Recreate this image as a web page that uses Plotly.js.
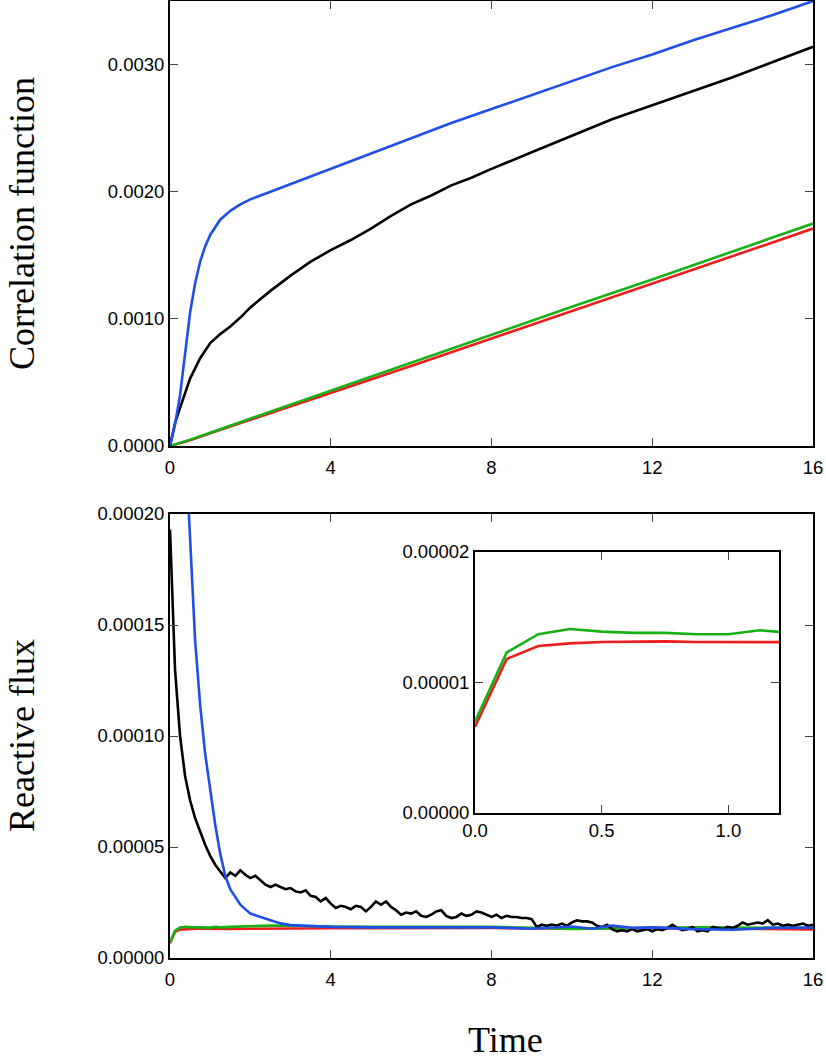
<!DOCTYPE html>
<html>
<head>
<meta charset="utf-8">
<script src="https://cdn.plot.ly/plotly-3.0.1.min.js"></script>
<style>html,body{margin:0;padding:0;background:#fff;}#chart{width:826px;height:1062px;}</style>
</head>
<body>
<div id="chart"></div>
<script>
// ---------- Top panel: correlation function (values in units of 1e-3) ----------
const tTopBlue = [0,0.125,0.25,0.375,0.5,0.625,0.75,0.875,1,1.25,1.5,1.75,2,2.5,3,3.5,4,5,6,7,8,9,10,11,12,13,14,15,16];
const corrBlue_e3 = [0,0.17,0.40,0.75,1.05,1.28,1.45,1.57,1.66,1.78,1.85,1.90,1.94,2.00,2.06,2.12,2.18,2.30,2.42,2.54,2.65,2.76,2.87,2.98,3.08,3.19,3.29,3.39,3.50];

const tTopBlack = [0,0.125,0.25,0.5,0.75,1,1.25,1.5,1.75,2,2.5,3,3.5,4,4.5,5,5.5,6,6.5,7,7.5,8,9,10,11,12,13,14,15,16];
const corrBlack_e3 = [0,0.18,0.30,0.53,0.69,0.81,0.88,0.94,1.01,1.09,1.22,1.34,1.45,1.54,1.62,1.71,1.81,1.90,1.97,2.05,2.11,2.18,2.31,2.44,2.57,2.68,2.79,2.90,3.02,3.14];

const tTopLin = [0,0.25,0.5,1,2,4,6,8,10,12,14,16];
const corrGreen_e3 = [0,0.022,0.050,0.105,0.215,0.44,0.66,0.88,1.095,1.31,1.53,1.75];
const corrRed_e3   = [0,0.020,0.046,0.100,0.205,0.415,0.63,0.845,1.06,1.28,1.495,1.71];

// ---------- Bottom panel: reactive flux (values in units of 1e-5) ----------
const tBlack = [0,0.125,0.25,0.375,0.5,0.625,0.75,0.875,1,1.125,1.25,1.375,1.5,1.625,1.75,1.875,2,2.125,2.25,2.375,2.5,2.625,2.75,2.875,3,3.125,3.25,3.375,3.5,3.625,3.75,3.875,4,4.125,4.25,4.375,4.5,4.625,4.75,4.875,5,5.125,5.25,5.375,5.5,5.625,5.75,5.875,6,6.125,6.25,6.375,6.5,6.625,6.75,6.875,7,7.125,7.25,7.375,7.5,7.625,7.75,7.875,8,8.125,8.25,8.375,8.5,8.625,8.75,8.875,9,9.125,9.25,9.375,9.5,9.625,9.75,9.875,10,10.125,10.25,10.375,10.5,10.625,10.75,10.875,11,11.125,11.25,11.375,11.5,11.625,11.75,11.875,12,12.125,12.25,12.375,12.5,12.625,12.75,12.875,13,13.125,13.25,13.375,13.5,13.625,13.75,13.875,14,14.125,14.25,14.375,14.5,14.625,14.75,14.875,15,15.125,15.25,15.375,15.5,15.625,15.75,15.875,16];
const fluxBlack_e5 = [19.3,13.0,10.0,8.2,7.1,6.3,5.7,5.1,4.6,4.2,3.9,3.6,3.85,3.7,3.95,3.75,3.6,3.7,3.5,3.3,3.2,3.3,3.2,3.1,3.15,3.0,2.95,3.05,2.8,2.75,2.55,2.7,2.45,2.25,2.35,2.3,2.2,2.35,2.3,2.1,2.3,2.55,2.4,2.55,2.3,2.15,1.95,2.05,2.0,2.1,1.9,1.85,1.95,2.1,2.15,1.9,1.8,1.85,2.0,1.9,1.95,2.1,2.05,1.95,1.85,1.95,1.8,1.9,1.85,1.85,1.8,1.8,1.75,1.4,1.5,1.45,1.5,1.45,1.55,1.45,1.6,1.7,1.65,1.65,1.6,1.45,1.4,1.5,1.3,1.2,1.25,1.2,1.3,1.2,1.25,1.3,1.2,1.3,1.25,1.35,1.5,1.35,1.25,1.3,1.4,1.2,1.25,1.2,1.4,1.35,1.3,1.4,1.35,1.45,1.6,1.5,1.55,1.6,1.55,1.7,1.5,1.55,1.45,1.5,1.45,1.5,1.55,1.45,1.5];

const tBlue = [0,0.125,0.25,0.375,0.5,0.625,0.75,0.875,1,1.125,1.25,1.375,1.5,1.75,2,2.25,2.5,2.75,3,3.5,4,5,6,7,8,9,10,10.5,11,11.5,12,13,14,15,16];
const fluxBlue_e5 = [46,37,29,23.5,18.6,14.3,11.4,9.2,7.6,6.0,4.7,3.7,3.1,2.4,2.0,1.85,1.68,1.56,1.48,1.43,1.40,1.38,1.39,1.38,1.38,1.32,1.42,1.32,1.46,1.36,1.38,1.30,1.27,1.36,1.36];

const tGR = [0,0.125,0.25,0.375,0.5,0.625,0.75,0.875,1,1.125,1.25,1.5,2,2.5,3,3.5,4,5,6,7,8,9,10,11,12,13,14,15,16];
const fluxGreen_e5 = [0.70,1.23,1.37,1.41,1.39,1.38,1.38,1.37,1.37,1.40,1.38,1.40,1.44,1.46,1.45,1.42,1.42,1.40,1.41,1.40,1.40,1.36,1.31,1.33,1.36,1.38,1.37,1.36,1.36];
const fluxRed_e5   = [0.66,1.18,1.28,1.30,1.31,1.315,1.315,1.31,1.31,1.31,1.31,1.31,1.32,1.33,1.33,1.34,1.34,1.34,1.35,1.36,1.35,1.33,1.34,1.34,1.34,1.33,1.32,1.31,1.29];

// tick labels
const topYTicks = [0, 0.001, 0.002, 0.003];
const topYLabels = ['0.0000','0.0010','0.0020','0.0030'];
const botYTicks = [0, 0.00005, 0.0001, 0.00015, 0.0002];
const botYLabels = ['0.00000','0.00005','0.00010','0.00015','0.00020'];
const xTicks = [0,4,8,12,16];
const xLabels = ['0','4','8','12','16'];
const insetXTicks = [0,0.5,1.0];
const insetXLabels = ['0.0','0.5','1.0'];
const insetYTicks = [0,0.00001,0.00002];
const insetYLabels = ['0.00000','0.00001','0.00002'];

const C = {blue:'#1f4fe6', black:'#000000', green:'#17b017', red:'#ee1c1c'};
const e3 = a => a.map(v => v*1e-3);
const e5 = a => a.map(v => v*1e-5);
const LW = 2.6;

const traces = [
  {x:tTopLin, y:e3(corrRed_e3), xaxis:'x', yaxis:'y', mode:'lines', line:{color:C.red,width:LW}},
  {x:tTopLin, y:e3(corrGreen_e3), xaxis:'x', yaxis:'y', mode:'lines', line:{color:C.green,width:LW}},
  {x:tTopBlack, y:e3(corrBlack_e3), xaxis:'x', yaxis:'y', mode:'lines', line:{color:C.black,width:LW}},
  {x:tTopBlue, y:e3(corrBlue_e3), xaxis:'x', yaxis:'y', mode:'lines', line:{color:C.blue,width:LW}},

  {x:tGR, y:e5(fluxRed_e5), xaxis:'x2', yaxis:'y2', mode:'lines', line:{color:C.red,width:LW}},
  {x:tGR, y:e5(fluxGreen_e5), xaxis:'x2', yaxis:'y2', mode:'lines', line:{color:C.green,width:LW}},
  {x:tBlack, y:e5(fluxBlack_e5), xaxis:'x2', yaxis:'y2', mode:'lines', line:{color:C.black,width:LW}},
  {x:tBlue, y:e5(fluxBlue_e5), xaxis:'x2', yaxis:'y2', mode:'lines', line:{color:C.blue,width:LW}},

  {x:tGR, y:e5(fluxRed_e5), xaxis:'x3', yaxis:'y3', mode:'lines', line:{color:C.red,width:LW}},
  {x:tGR, y:e5(fluxGreen_e5), xaxis:'x3', yaxis:'y3', mode:'lines', line:{color:C.green,width:LW}}
];

const W = 826, H = 1062;
const px = (a,b) => [a/W, b/W];
const py = (top,bot) => [(H-bot)/H, (H-top)/H];
const tickFont = {family:'Liberation Sans, Arial, sans-serif', size:18.5, color:'#000'};
const axBase = {
  showline:true, linecolor:'#000', linewidth:2, mirror:'ticks',
  ticks:'inside', ticklen:8, tickwidth:1, tickcolor:'#444',
  showgrid:false, zeroline:false, tickfont:tickFont, tickmode:'array',
  fixedrange:true
};
const titleFont = {family:'Liberation Serif, Times New Roman, serif', size:36, color:'#000'};

const layout = {
  width:W, height:H,
  margin:{l:0,r:0,t:0,b:0},
  paper_bgcolor:'#fff', plot_bgcolor:'#fff',
  showlegend:false,
  xaxis: Object.assign({}, axBase, {domain:px(170,813), range:[0,16], anchor:'y', tickvals:xTicks, ticktext:xLabels, ticklabelstandoff:4}),
  yaxis: Object.assign({}, axBase, {domain:py(1,446), range:[0,0.0035], anchor:'x', tickvals:topYTicks, ticktext:topYLabels}),
  xaxis2: Object.assign({}, axBase, {domain:px(170,813), range:[0,16], anchor:'y2', tickvals:xTicks, ticktext:xLabels, ticklabelstandoff:4}),
  yaxis2: Object.assign({}, axBase, {domain:py(514,958), range:[0,0.0002], anchor:'x2', tickvals:botYTicks, ticktext:botYLabels}),
  xaxis3: Object.assign({}, axBase, {domain:px(475,779), range:[0,1.2], anchor:'y3', tickvals:insetXTicks, ticktext:insetXLabels}),
  yaxis3: Object.assign({}, axBase, {domain:py(552,813), range:[0,0.00002], anchor:'x3', tickvals:insetYTicks, ticktext:insetYLabels}),
  annotations:[
    {text:'Correlation function', xref:'paper', yref:'paper', x:22/W, y:(H-224)/H, textangle:-90, showarrow:false, xanchor:'center', yanchor:'middle', font:titleFont},
    {text:'Reactive flux', xref:'paper', yref:'paper', x:22/W, y:(H-736)/H, textangle:-90, showarrow:false, xanchor:'center', yanchor:'middle', font:titleFont},
    {text:'Time', xref:'paper', yref:'paper', x:505/W, y:(H-1040)/H, showarrow:false, xanchor:'center', yanchor:'middle', font:titleFont}
  ]
};

Plotly.newPlot('chart', traces, layout, {staticPlot:true, displayModeBar:false});
</script>
</body>
</html>
